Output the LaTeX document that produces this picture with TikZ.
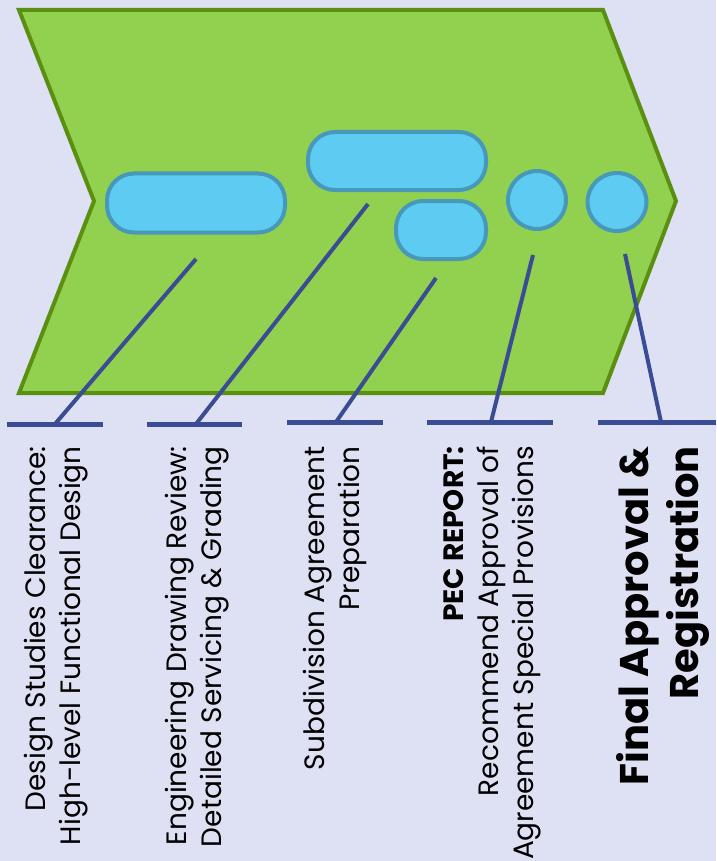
\documentclass[tikz,border=0pt]{standalone}
\usepackage{fontspec}
\setmainfont{Poppins}
\usetikzlibrary{shapes.geometric}
\definecolor{bgc}{HTML}{DDE1F3}
\definecolor{chevfill}{HTML}{92D050}
\definecolor{chevline}{HTML}{5B8F12}
\definecolor{pillfill}{HTML}{5DCBF2}
\definecolor{pillline}{HTML}{4898BA}
\definecolor{leader}{HTML}{3A4C94}
\begin{document}
\begin{tikzpicture}[x=1pt,y=-1pt,
  chev/.style={fill=chevfill,draw=chevline,line width=4pt,line join=miter},
  pill/.style={draw=pillline,fill=pillfill,line width=4pt,rounded corners=27pt,inner sep=0pt},
  dot/.style={draw=pillline,fill=pillfill,line width=4pt,ellipse,inner sep=0pt},
  leadline/.style={draw=leader,line width=4pt},
  bar/.style={draw=leader,line width=5pt},
  label/.style={rotate=90,anchor=east,align=right,inner sep=0pt,font=\fontsize{28}{35}\selectfont},
  biglabel/.style={rotate=90,anchor=east,align=right,inner sep=0pt,font=\fontsize{40}{50}\selectfont\bfseries}]
\fill[bgc] (0,0) rectangle (716,861);
\useasboundingbox (0,0) rectangle (716,861);
\draw[chev] (19,10) -- (603,10) -- (676,201) -- (603,393) -- (19,393) -- (94,201) -- cycle;
\node[pill,minimum width=178pt,minimum height=59pt] (p1) at (196,203) {};
\node[pill,minimum width=178pt,minimum height=58pt] (p2) at (397,161) {};
\node[pill,minimum width=90pt,minimum height=58pt] (p3) at (441,230) {};
\node[dot,minimum width=58pt,minimum height=58pt] (c4) at (537,200) {};
\node[dot,minimum width=59pt,minimum height=58pt] (c5) at (617,202) {};
% leader coordinates
\coordinate (t1) at (196,259); \coordinate (b1) at (55,424);
\coordinate (t2) at (368,204); \coordinate (b2) at (196,424);
\coordinate (t3) at (436,278); \coordinate (b3) at (336,422);
\coordinate (t4) at (533,255); \coordinate (b4) at (491,422);
\coordinate (t5) at (625,254); \coordinate (b5) at (661,422);
\coordinate (l1) at (7,424);   \coordinate (r1) at (103,424);
\coordinate (l2) at (147,424); \coordinate (r2) at (242,424);
\coordinate (l3) at (287,422); \coordinate (r3) at (383,422);
\coordinate (l4) at (427,422); \coordinate (r4) at (553,422);
\coordinate (l5) at (598,422); \coordinate (r5) at (716,422);
\foreach \i in {1,...,5}{
  \draw[leadline] (t\i) -- (b\i);
  \draw[bar] (l\i) -- (r\i);
}
\node[label] (s1) at (56,446) {Design Studies Clearance:\\High-level Functional Design};
\node[label] (s2) at (197,446) {Engineering Drawing Review:\\Detailed Servicing \& Grading};
\node[label] (s3) at (335,446) {Subdivision Agreement\\Preparation};
\node[label] (s4) at (492,446) {\textbf{PEC REPORT:}\\Recommend Approval of\\Agreement Special Provisions};
\node[biglabel] (s5) at (663,446) {Final Approval \&\\Registration};
\end{tikzpicture}
\end{document}
